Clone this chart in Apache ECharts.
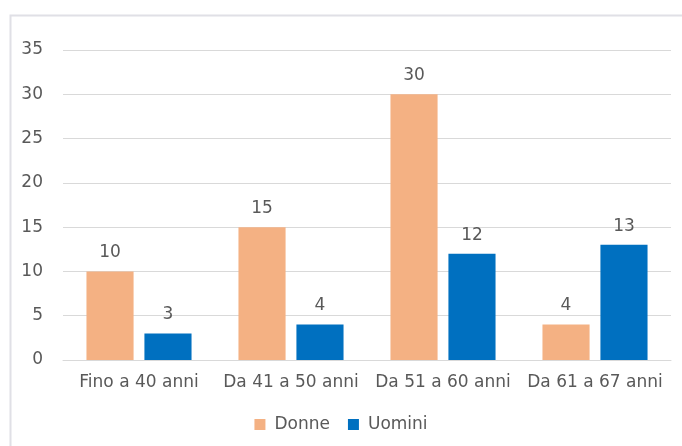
<!DOCTYPE html>
<html><head><meta charset="utf-8">
<script src="https://cdn.jsdelivr.net/npm/echarts@6/dist/echarts.min.js"></script>
<style>html,body{margin:0;padding:0;background:#fff}#c{width:682px;height:446px}</style>
</head><body><div id="c"></div>
<script>
const categories = ['Fino a 40 anni', 'Da 41 a 50 anni', 'Da 51 a 60 anni', 'Da 61 a 67 anni'];
const donne = [10, 15, 30, 4];
const uomini = [3, 4, 12, 13];
const seriesNames = ['Donne', 'Uomini'];
const chart = echarts.init(document.getElementById('c'));
const font = 'DejaVu Sans';
const txt = '#595959';
chart.setOption({
  animation: false,
  graphic: [{type:'rect', shape:{x:10.5,y:15.5,width:900,height:600}, style:{fill:'none', stroke:'#e0e0e6', lineWidth:2}}],
  grid: {left: 63, right: 11, top: 50, bottom: 86},
  legend: {bottom: 8, left: 'center', itemWidth: 11, itemHeight: 11, itemGap: 18, icon: 'rect',
    textStyle: {fontFamily: font, fontSize: 17, color: txt, padding: [0, 0, 0, 4]}, data: seriesNames},
  xAxis: {type: 'category', data: categories,
    axisLine: {lineStyle: {color: '#d9d9d9'}}, axisTick: {show: false},
    axisLabel: {fontFamily: font, fontSize: 17, color: txt, margin: 14, interval: 0}},
  yAxis: {type: 'value', min: 0, max: 35, interval: 5,
    axisLine: {show: false}, axisTick: {show: false},
    splitLine: {lineStyle: {color: '#d9d9d9'}},
    axisLabel: {fontFamily: font, fontSize: 17, color: txt, margin: 20}},
  series: [
    {name: seriesNames[0], type: 'bar', data: donne, barWidth: '31%', barGap: '23%',
     itemStyle: {color: '#F4B183'},
     label: {show: true, position: 'top', distance: 10, fontFamily: font, fontSize: 17, color: txt}},
    {name: seriesNames[1], type: 'bar', data: uomini, barWidth: '31%',
     itemStyle: {color: '#0070C0'},
     label: {show: true, position: 'top', distance: 10, fontFamily: font, fontSize: 17, color: txt}}
  ]
});
</script></body></html>
